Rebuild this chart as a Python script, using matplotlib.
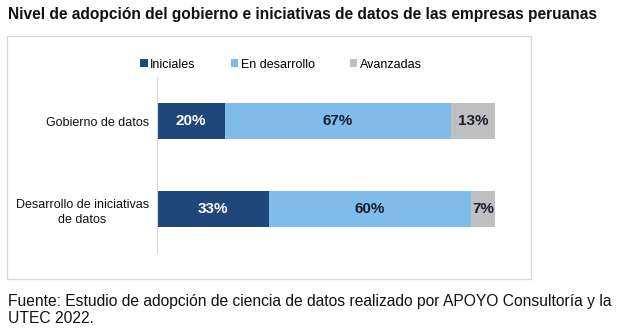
import numpy as np
import matplotlib
matplotlib.use("Agg")
import matplotlib.pyplot as plt
from matplotlib.patches import Rectangle, Patch

plt.rcParams['font.family'] = ['Liberation Sans', 'DejaVu Sans']

# datos
categorias = ["Gobierno de datos", "Desarrollo de iniciativas\nde datos"]
series = ["Iniciales", "En desarrollo", "Avanzadas"]
iniciales = [20, 33]
en_desarrollo = [67, 60]
avanzadas = [13, 7]

colores = ["#1F477A", "#7FBCEB", "#C0C0C0"]
color_txt = ["white", "#1A1F2E", "#1A1F2E"]

fig = plt.figure(figsize=(6.2, 3.33), dpi=100)

# marco gris alrededor del grafico
fig.patches.append(Rectangle((7 / 620, 1 - 279 / 333), 524 / 620, 243 / 333,
                             transform=fig.transFigure, fill=False,
                             edgecolor="#D9D9D9", linewidth=1))

fig.text(8 / 620, 1 - 15 / 333,
         "Nivel de adopción del gobierno e iniciativas de datos de las empresas peruanas",
         fontsize=11.2, fontweight="bold", va="center", ha="left", color="#111111")

fig.text(8 / 620, 1 - 310 / 333,
         "Fuente: Estudio de adopción de ciencia de datos realizado por APOYO Consultoría y la\nUTEC 2022.",
         fontsize=11.25, va="center", ha="left", color="#111111", linespacing=1.2)

ax = fig.add_axes([157 / 620, 1 - 253 / 333, 338 / 620, 176 / 333])

y = np.arange(len(categorias))
valores = [iniciales, en_desarrollo, avanzadas]
izq = np.zeros(len(categorias))
for i, vals in enumerate(valores):
    vals = np.array(vals)
    ax.barh(y, vals, left=izq, height=0.4, color=colores[i], label=series[i])
    for j in range(len(y)):
        ax.text(izq[j] + vals[j] / 2, y[j], str(vals[j]) + "%",
                ha="center", va="center", fontsize=11, fontweight="bold",
                color=color_txt[i])
    izq = izq + vals

ax.set_xlim(0, 100)
ax.set_ylim(1.5, -0.5)
ax.set_yticks(y)
ax.set_yticklabels(categorias, fontsize=9, color="#111111",
                   multialignment="center", linespacing=1.35)
ax.set_xticks([])
ax.tick_params(axis="y", length=0, pad=6)
for s in ["top", "right", "bottom"]:
    ax.spines[s].set_visible(False)
ax.spines["left"].set_color("#D9D9D9")

handles = [Patch(facecolor=c, edgecolor="none") for c in colores]
fig.legend(handles, series, loc="center", bbox_to_anchor=(281 / 620, 1 - 64.7 / 333),
           ncol=3, frameon=False, fontsize=9, handlelength=0.6, handleheight=0.6,
           handletextpad=0.2, columnspacing=2.8)

fig.savefig("out.png", dpi=100)
